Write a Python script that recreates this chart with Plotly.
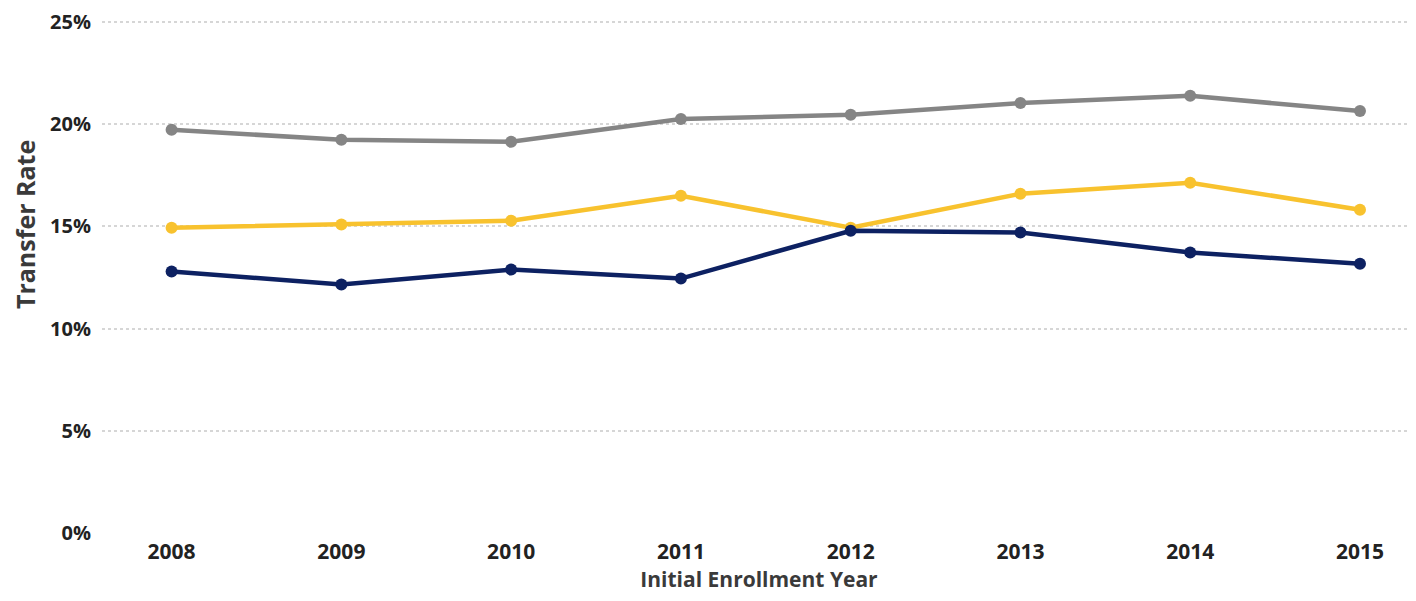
import plotly.graph_objects as go

years = ["2008", "2009", "2010", "2011", "2012", "2013", "2014", "2015"]
gray_rate = [0.1973, 0.1924, 0.1914, 0.2026, 0.2046, 0.2104, 0.2139, 0.2065]
yellow_rate = [0.1494, 0.1509, 0.1528, 0.1650, 0.1494, 0.1660, 0.1714, 0.1582]
navy_rate = [0.1279, 0.1216, 0.1289, 0.1245, 0.1479, 0.1470, 0.1372, 0.1318]

y_ticks = [0, 0.05, 0.10, 0.15, 0.20, 0.25]
y_labels = ["0%", "5%", "10%", "15%", "20%", "25%"]

font_fam = "Open Sans, Noto Sans, sans-serif"

fig = go.Figure()
for vals, col in [(gray_rate, "#858585"), (yellow_rate, "#F8C22E"), (navy_rate, "#0D2162")]:
    fig.add_trace(go.Scatter(
        x=years, y=vals, mode="lines+markers",
        line=dict(color=col, width=4.5),
        marker=dict(color=col, size=12),
        cliponaxis=False,
        showlegend=False))

fig.update_xaxes(
    type="category",
    range=[-0.41, 7.33],
    automargin=False,
    showgrid=False, zeroline=False, showline=False,
    tickfont=dict(family=font_fam, size=21, color="#222222", weight="bold"),
    ticks="", ticklabelstandoff=4,
    title_text="<b>Initial Enrollment Year</b>",
    title_font=dict(family=font_fam, size=21, color="#3a3a3a"),
    title_standoff=6)
fig.update_yaxes(
    range=[0, 0.2515],
    automargin=False,
    ticklabeloverflow="allow",
    tickvals=y_ticks, ticktext=y_labels,
    showgrid=True, gridcolor="#d6d6d6", griddash="dot", gridwidth=1.5,
    zeroline=False, showline=False,
    tickfont=dict(family=font_fam, size=20, color="#222222", weight="bold"),
    ticks="", ticklabelstandoff=10)

fig.add_annotation(
    text="<b>Transfer Rate</b>", textangle=-90,
    xref="paper", yref="paper", x=-0.059, y=0.60,
    xanchor="center", yanchor="middle", showarrow=False,
    font=dict(family=font_fam, size=25, color="#3a3a3a"))

# page body adds an 8px offset, so the figure is sized to fill the rest
fig.update_layout(
    width=1408, height=593,
    margin=dict(l=94, r=0, t=11, b=68),
    plot_bgcolor="white", paper_bgcolor="white")

fig.write_html("out.html")
